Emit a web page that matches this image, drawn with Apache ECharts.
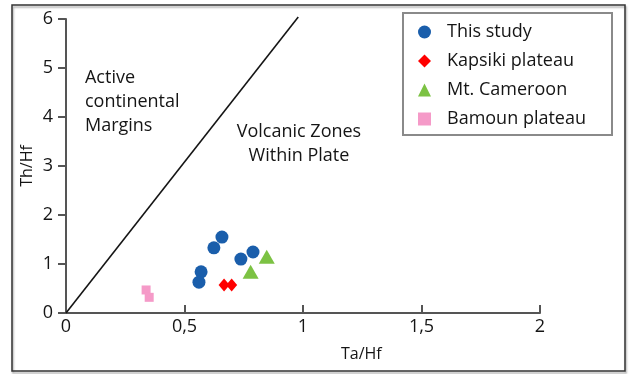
<!DOCTYPE html>
<html>
<head>
<meta charset="utf-8">
<script src="https://cdn.jsdelivr.net/npm/echarts@6/dist/echarts.min.js"></script>
<style>
  html, body { margin: 0; padding: 0; background: #fff; }
  #chart { width: 629px; height: 374px; }
</style>
</head>
<body>
<div id="chart"></div>
<script>
// Ta/Hf vs Th/Hf discrimination diagram
const xTicks = [0, 0.5, 1, 1.5, 2];
const yTicks = [0, 1, 2, 3, 4, 5, 6];

const thisStudy = [[0.658, 1.55], [0.624, 1.33], [0.738, 1.10], [0.789, 1.245], [0.570, 0.84], [0.561, 0.63]];
const kapsiki = [[0.667, 0.57], [0.699, 0.57]];
const mtCameroon = [[0.847, 1.15], [0.779, 0.84]];
const bamoun = [[0.338, 0.47], [0.351, 0.32]];

// boundary between the two fields
const boundary = [[0, 0], [0.98, 6.04]];

const fieldLabels = [
  { pos: [0.08, 4.3], text: 'Active\ncontinental\nMargins', align: 'left' },
  { pos: [0.983, 3.45], text: 'Volcanic Zones\nWithin Plate', align: 'center' }
];

const FONT = 'Open Sans';
const INK = '#151515';
const chart = echarts.init(document.getElementById('chart'), null, { renderer: 'canvas' });

chart.setOption({
  animation: false,
  backgroundColor: '#fff',
  textStyle: { fontFamily: FONT, color: INK },
  grid: { left: 66, right: 89, top: 19, bottom: 61 },
  xAxis: {
    type: 'value', min: xTicks[0], max: xTicks[xTicks.length - 1], interval: 0.5,
    axisLine: { lineStyle: { color: '#555', width: 2 } },
    axisTick: { inside: true, length: 8, lineStyle: { color: '#555', width: 2 } },
    axisLabel: {
      fontFamily: FONT, fontSize: 18, color: INK, margin: 5,
      formatter: v => String(v).replace('.', ',')
    },
    splitLine: { show: false }
  },
  yAxis: {
    type: 'value', min: yTicks[0], max: yTicks[yTicks.length - 1], interval: 1,
    name: 'Th/Hf', nameLocation: 'middle', nameGap: 31, nameMoveOverlap: false,
    nameTextStyle: { fontFamily: FONT, fontSize: 16, color: INK },
    axisLine: { show: true, lineStyle: { color: '#555', width: 2 } },
    axisTick: { show: true, length: 8, lineStyle: { color: '#555', width: 2 } },
    axisLabel: { fontFamily: FONT, fontSize: 18, color: INK, margin: 13 },
    splitLine: { show: false }
  },
  legend: {
    orient: 'vertical', left: 403, top: 13,
    padding: [10, 26, 7, 15],
    itemWidth: 13, itemHeight: 13, itemGap: 11,
    borderColor: '#8a8a8a', borderWidth: 2,
    textStyle: { fontFamily: FONT, fontSize: 18, color: INK, padding: [0, 0, 0, 11] },
    data: ['This study', 'Kapsiki plateau', 'Mt. Cameroon', 'Bamoun plateau']
  },
  graphic: [
    { type: 'rect', shape: { x: 12, y: 5, width: 613, height: 366 },
      style: { fill: 'none', stroke: '#333', lineWidth: 1.5,
               shadowColor: 'rgba(0,0,0,0.35)', shadowBlur: 2, shadowOffsetX: 1, shadowOffsetY: 2 },
      silent: true, z: 0 },
    { type: 'text', left: 341, top: 346,
      style: { text: 'Ta/Hf', font: '16px "Open Sans"', fill: INK } }
  ],
  series: [
    {
      type: 'line', data: boundary, symbol: 'none', clip: false, silent: true,
      lineStyle: { color: INK, width: 1.6 }, z: 1
    },
    {
      type: 'scatter', silent: true, symbolSize: 0, z: 1,
      itemStyle: { opacity: 1 },
      data: fieldLabels.map(d => ({ value: d.pos, label: { align: d.align } })),
      label: {
        show: true, position: 'inside', fontFamily: FONT, fontSize: 18, lineHeight: 24,
        color: INK, opacity: 1, formatter: p => fieldLabels[p.dataIndex].text
      }
    },
    { name: 'This study', type: 'scatter', symbol: 'circle', symbolSize: 13,
      itemStyle: { color: '#1a5eab', opacity: 1 }, data: thisStudy, z: 3 },
    { name: 'Kapsiki plateau', type: 'scatter', symbol: 'diamond', symbolSize: [11, 13],
      itemStyle: { color: '#ff0000', opacity: 1 }, data: kapsiki, z: 3 },
    { name: 'Mt. Cameroon', type: 'scatter', symbol: 'triangle', symbolSize: [16, 14],
      itemStyle: { color: '#7cc243', opacity: 1 }, data: mtCameroon, z: 3 },
    { name: 'Bamoun plateau', type: 'scatter', symbol: 'rect', symbolSize: 9,
      itemStyle: { color: '#f59ac8', opacity: 1 }, data: bamoun, z: 3 }
  ]
});
</script>
</body>
</html>
